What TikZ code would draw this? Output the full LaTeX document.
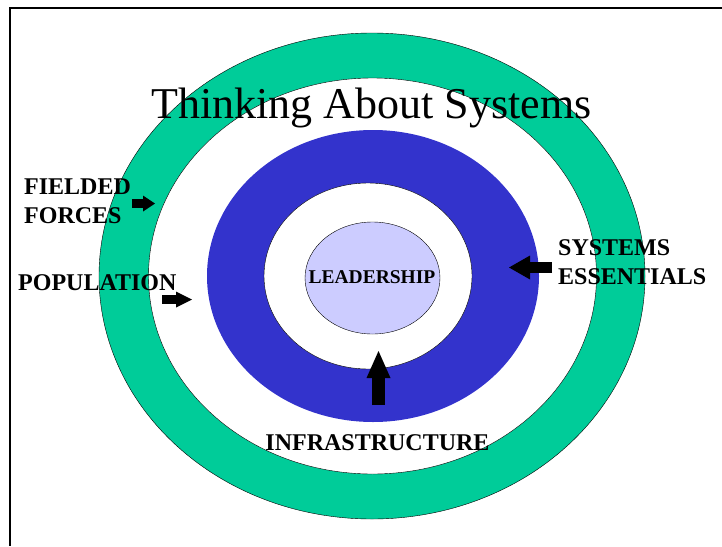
\documentclass[tikz,border=0pt]{standalone}
\usepackage{fontspec}
\setmainfont{Liberation Serif}
\usepackage{xcolor}
\usetikzlibrary{arrows.meta,positioning}
\definecolor{ringgreen}{HTML}{00CC99}
\definecolor{ringblue}{HTML}{3333CC}
\definecolor{leadfill}{HTML}{CCCCFF}

\begin{document}
\begin{tikzpicture}[x=1pt,y=-1pt,
                    lbl/.style={font=\bfseries\fontsize{24}{29}\selectfont, inner sep=0pt, align=left},
                    block/.style n args={3}{line width=#1, -{Triangle[length=#2, width=#3, line width=0pt]}}]
                    \useasboundingbox (0,0) rectangle (722,546);
                    \draw[line width=2pt] (722,8) -| (10,546);
                    % rings
                    \draw[fill=ringgreen] (372,276) ellipse [x radius=273, y radius=243];
                    \draw[fill=white] (372.5,276) ellipse [x radius=224, y radius=198];
                    \fill[ringblue] (373,276) ellipse [x radius=166, y radius=146];
                    \draw[fill=white] (368,276) ellipse [x radius=104, y radius=93];
                    \draw[fill=leadfill] (372.5,278) ellipse [x radius=67.5, y radius=56];
                    % texts
                    \node[font=\bfseries\fontsize{19.5}{23}\selectfont, inner sep=0pt] (lead) at (372,277) {LEADERSHIP};
                    \node[font=\fontsize{44}{53}\selectfont, inner sep=0pt, anchor=base] (title) at (371.5,118) {Thinking About Systems};
                    \node[lbl, anchor=base west] (fielded) at (24,223) {FIELDED\\FORCES};
                    \node[lbl, anchor=base west] (pop) at (18,290) {POPULATION};
                    \node[lbl, anchor=base west] (sys) at (558,284) {SYSTEMS\\ESSENTIALS};
                    \node[lbl, anchor=base] (infra) at (377.5,450) {INFRASTRUCTURE};
                    % arrows
                    \coordinate (fielded a) at (132,203.5);
                    \coordinate (fielded b) at (155,203.5);
                    \coordinate (pop a) at (162,299.5);
                    \coordinate (pop b) at (192,299.5);
                    \coordinate (sys a) at (552,267.5);
                    \coordinate (sys b) at (509,267.5);
                    \coordinate (infra a) at (378.5,405);
                    \coordinate (infra b) at (378.5,351);
                    \draw[block={9pt}{12pt}{16pt}] (fielded a) -- (fielded b);
                    \draw[block={9pt}{16pt}{16pt}] (pop a) -- (pop b);
                    \draw[block={11pt}{21pt}{24pt}] (sys a) -- (sys b);
                    \draw[block={13pt}{27pt}{24pt}] (infra a) -- (infra b);
\end{tikzpicture}
\end{document}
